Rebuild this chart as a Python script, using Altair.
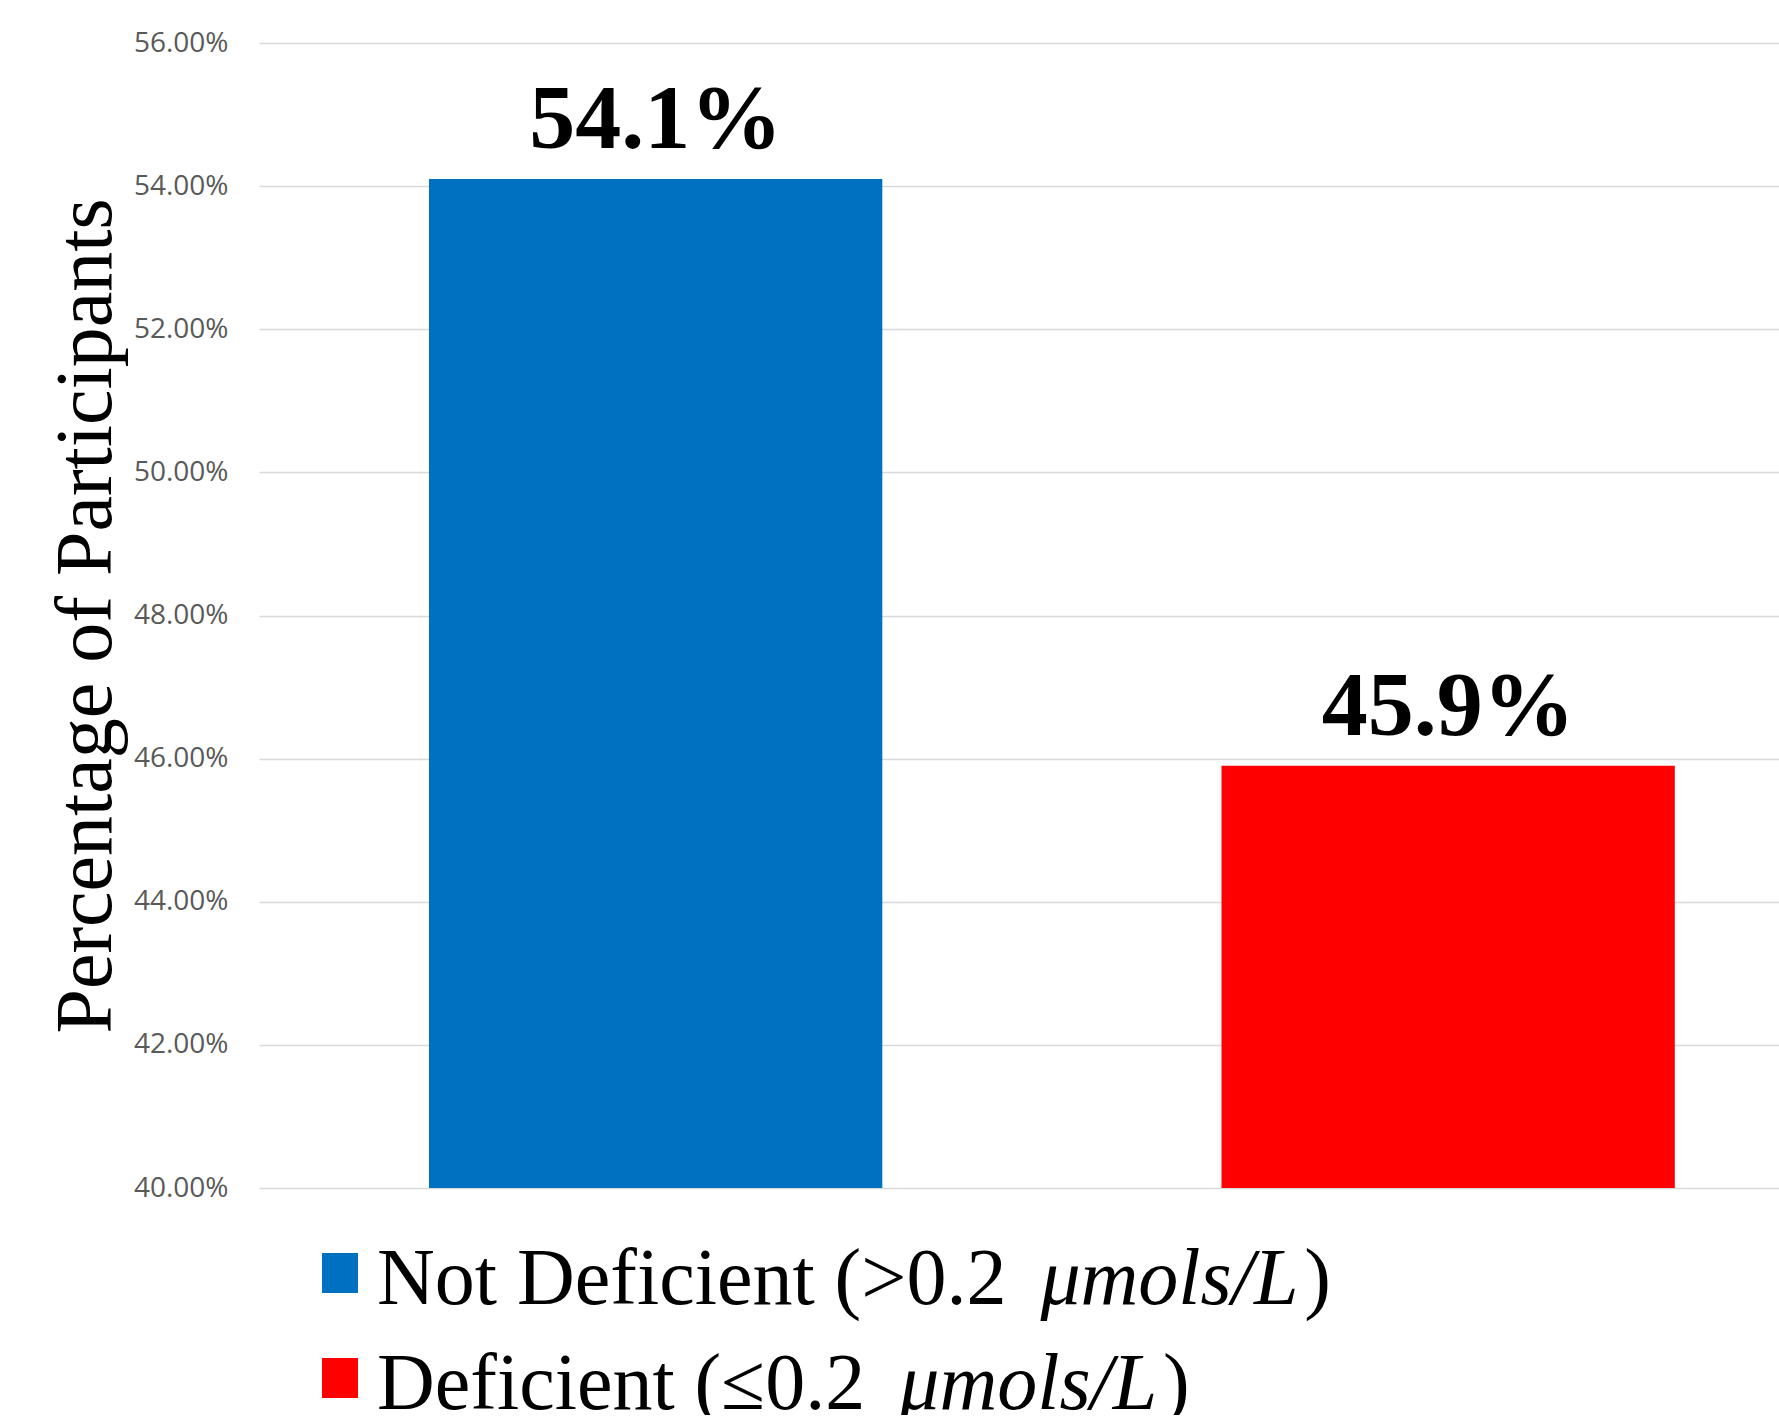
import altair as alt
import pandas as pd

# ---- data ----
categories = ["Not Deficient", "Deficient"]
values = [0.541, 0.459]
value_labels = ["54.1%", "45.9%"]
bar_colors = ["#0070C0", "#FF0000"]
y_ticks = [0.40, 0.42, 0.44, 0.46, 0.48, 0.50, 0.52, 0.54, 0.56]
legend_prefix = ["Not Deficient (>0.2", "Deficient (\u22640.2"]
legend_unit = ["\u03bcmols/L", "\u03bcmols/L"]
legend_suffix = [")", ")"]

df = pd.DataFrame({"category": categories, "value": values, "label": value_labels,
                   "base": [y_ticks[0]] * len(categories)})

W, H = 1520, 1145
SERIF = "Liberation Serif"

# Times New Roman metrics (Liberation Serif is metric compatible)
TIMES = {" ": 250, "(": 333, ")": 333, ".": 250, "/": 278, "0": 500, "2": 500, ">": 564,
         "\u2264": 549, "D": 722, "N": 722, "c": 444, "e": 444, "f": 333, "i": 278,
         "n": 500, "o": 500, "t": 278}
TIMES_IT = {"\u03bc": 500, "m": 722, "o": 500, "l": 278, "s": 389, "/": 278, "L": 556}


def tw(s, size, table):
    return sum(table.get(c, 500) for c in s) * size / 1000.0


color_scale = alt.Scale(domain=categories, range=bar_colors)
x_enc = alt.X("category:N", sort=categories, axis=None,
              scale=alt.Scale(paddingInner=0.428, paddingOuter=0.173, align=0.62))

bars = alt.Chart(df).mark_bar().encode(
    x=x_enc,
    y=alt.Y("value:Q",
            scale=alt.Scale(domain=[y_ticks[0], y_ticks[-1]], zero=False, nice=False),
            axis=alt.Axis(values=y_ticks, format=".2%", title="Percentage of Participants",
                          grid=True, gridColor="#d9d9d9", gridWidth=1.5,
                          ticks=False, domain=False,
                          labelFont="Open Sans", labelFontSize=28, labelColor="#595959",
                          labelPadding=31,
                          titleFont=SERIF, titleFontSize=80, titleFontWeight="normal",
                          titleColor="black", titleX=-149, titleY=H / 2,
                          titleAngle=270, titleAlign="center", titleBaseline="alphabetic")),
    y2=alt.Y2("base:Q"),
    color=alt.Color("category:N", scale=color_scale, legend=None),
)

labels = alt.Chart(df).mark_text(font=SERIF, fontSize=92, fontWeight="bold",
                                 baseline="alphabetic", dy=-31, color="black").encode(
    x=x_enc,
    y=alt.Y("value:Q"),
    text="label:N",
)

layers = [bars, labels]

# ---- legend (built from marks so the unit can be italic) ----
LEG_SIZE = 80
row_gap = 105
for i in range(len(categories)):
    sq_top = 1210 + i * row_gap
    base_y = 1261 + i * row_gap
    x0 = 118
    sq = alt.Chart(pd.DataFrame({"c": [categories[i]]})).mark_rect().encode(
        x=alt.value(63), x2=alt.value(99), y=alt.value(sq_top), y2=alt.value(sq_top + 40),
        color=alt.Color("c:N", scale=color_scale, legend=None))
    t1 = alt.Chart(pd.DataFrame({"t": [legend_prefix[i]]})).mark_text(
        font=SERIF, fontSize=LEG_SIZE, align="left", baseline="alphabetic", color="black").encode(
        x=alt.value(x0), y=alt.value(base_y), text="t:N")
    xi = x0 + tw(legend_prefix[i], LEG_SIZE, TIMES) + 34
    t2 = alt.Chart(pd.DataFrame({"t": [legend_unit[i]]})).mark_text(
        font=SERIF, fontSize=LEG_SIZE, fontStyle="italic", align="left",
        baseline="alphabetic", color="black").encode(
        x=alt.value(xi), y=alt.value(base_y), text="t:N")
    xc = xi + tw(legend_unit[i], LEG_SIZE, TIMES_IT) + 6
    t3 = alt.Chart(pd.DataFrame({"t": [legend_suffix[i]]})).mark_text(
        font=SERIF, fontSize=LEG_SIZE, align="left", baseline="alphabetic", color="black").encode(
        x=alt.value(xc), y=alt.value(base_y), text="t:N")
    layers += [sq, t1, t2, t3]

chart = alt.layer(*layers).properties(
    width=W, height=H,
    autosize=alt.AutoSizeParams(type="none"),
    padding={"left": 259, "top": 43, "right": 0, "bottom": 227},
    background="white",
).configure_view(strokeWidth=0)

chart.save("out.html", embed_options={"renderer": "svg", "actions": False})
